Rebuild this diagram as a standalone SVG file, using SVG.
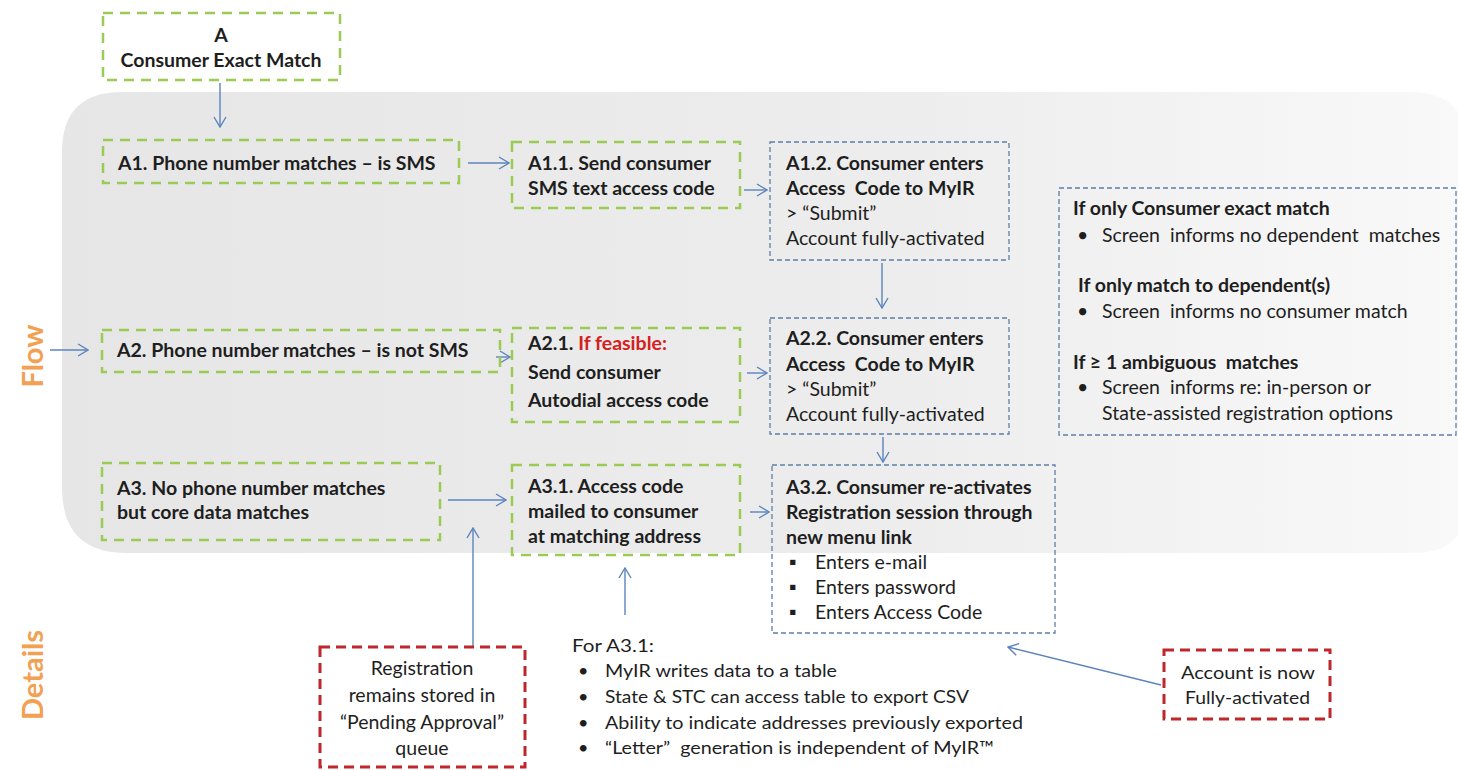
<svg xmlns="http://www.w3.org/2000/svg" width="1458" height="770" viewBox="0 0 1458 770">
<defs>
<linearGradient id="band" x1="0" y1="0" x2="1" y2="0">
<stop offset="0" stop-color="#e6e6e6"/>
<stop offset="0.6" stop-color="#ededed"/>
<stop offset="1" stop-color="#f9f9f9"/>
</linearGradient>
<marker id="ah" viewBox="0 0 12 14" refX="11" refY="7" markerWidth="12" markerHeight="14" markerUnits="userSpaceOnUse" orient="auto">
<path d="M1,1 L11,7 L1,13" fill="none" stroke="#5b84bd" stroke-width="1.4"/>
</marker>
<style>
.g{fill:none;stroke:#9bca55;stroke-width:2.5;stroke-dasharray:10 7}
.b{fill:none;stroke:#5d7fa8;stroke-width:1.3;stroke-dasharray:5 3}
.r{fill:none;stroke:#c0272d;stroke-width:3;stroke-dasharray:10 6}
.t{font-family:Lato,"Liberation Sans",sans-serif;font-size:19.5px;fill:#1e1e1e}
.tb{font-family:Lato,"Liberation Sans",sans-serif;font-size:19.5px;font-weight:bold;fill:#1e1e1e}
.tn{font-family:Lato,"Liberation Sans",sans-serif;font-size:18px;fill:#1e1e1e}
.red{fill:#d42020}
.lab{font-family:Lato,"Liberation Sans",sans-serif;font-size:29px;font-weight:bold;fill:#f2a052}
.c{fill:none;stroke:#5b84bd;stroke-width:1.4;marker-end:url(#ah)}
</style>
</defs>
<rect width="1458" height="770" fill="#ffffff"/>
<path d="M122,92 H1410 Q1468,92 1468,150 V498 Q1468,553 1413,553 H127 Q62,553 62,488 V152 Q62,92 122,92 Z" fill="url(#band)"/>
<text class="lab" text-anchor="middle" transform="translate(43,356) rotate(-90)">Flow</text>
<text class="lab" text-anchor="middle" transform="translate(43,675) rotate(-90)">Details</text>

<g id="connectors">
<path class="c" d="M220,83 V127"/>
<path class="c" d="M468,163 H509"/>
<path class="c" d="M744,190 H767"/>
<path class="c" d="M882,263 V308"/>
<path class="c" d="M50,350 H88"/>
<path class="c" d="M496,357 H510"/>
<path class="c" d="M747,373 H767"/>
<path class="c" d="M883,437 V462"/>
<path class="c" d="M448,500 H506"/>
<path class="c" d="M473,647 V528"/>
<path class="c" d="M625,615 V568"/>
<path class="c" d="M750,512 H769"/>
<path class="c" d="M1161,685 L1008,647"/>
</g>

<g id="nodeA">
<rect class="g" x="103" y="13" width="237" height="67"/>
<text class="tb" x="221" y="42" text-anchor="middle">A</text>
<text class="tb" x="221" y="67" text-anchor="middle">Consumer Exact Match</text>
</g>

<g id="nodeA1">
<rect class="g" x="103" y="140" width="356" height="43"/>
<text class="tb" x="118" y="170">A1. Phone number matches – is SMS</text>
</g>

<g id="nodeA1_1">
<rect class="g" x="512" y="142" width="228" height="66"/>
<text class="tb" x="528" y="170">A1.1. Send consumer</text>
<text class="tb" x="528" y="195">SMS text access code</text>
</g>

<g id="nodeA1_2">
<rect class="b" x="770" y="142" width="239" height="118"/>
<text class="tb" x="786" y="170">A1.2. Consumer enters</text>
<text class="tb" x="786" y="195" xml:space="preserve">Access  Code to MyIR</text>
<text class="t" x="786" y="220">&gt; “Submit”</text>
<text class="t" x="786" y="245">Account fully-activated</text>
</g>

<g id="nodeInfo">
<rect class="b" x="1059" y="188" width="397" height="247"/>
<text class="tb" x="1073" y="215">If only Consumer exact match</text>
<text class="t" x="1077" y="242">•</text>
<text class="t" x="1102" y="242" xml:space="preserve">Screen  informs no dependent  matches</text>
<text class="tb" x="1078" y="292">If only match to dependent(s)</text>
<text class="t" x="1077" y="318">•</text>
<text class="t" x="1102" y="318" xml:space="preserve">Screen  informs no consumer match</text>
<text class="tb" x="1073" y="369" xml:space="preserve">If ≥ 1 ambiguous  matches</text>
<text class="t" x="1077" y="394">•</text>
<text class="t" x="1102" y="394" xml:space="preserve">Screen  informs re: in-person or</text>
<text class="t" x="1102" y="420">State-assisted registration options</text>
</g>

<g id="nodeA2">
<rect class="g" x="102" y="330" width="398" height="42"/>
<text class="tb" x="117" y="357">A2. Phone number matches – is not SMS</text>
</g>

<g id="nodeA2_1">
<rect class="g" x="512" y="328" width="228" height="94"/>
<text class="tb" x="528" y="350">A2.1. <tspan class="red">If feasible:</tspan></text>
<text class="tb" x="528" y="379">Send consumer</text>
<text class="tb" x="528" y="407">Autodial access code</text>
</g>

<g id="nodeA2_2">
<rect class="b" x="770" y="318" width="239" height="116"/>
<text class="tb" x="786" y="345">A2.2. Consumer enters</text>
<text class="tb" x="786" y="371" xml:space="preserve">Access  Code to MyIR</text>
<text class="t" x="786" y="396">&gt; “Submit”</text>
<text class="t" x="786" y="421">Account fully-activated</text>
</g>

<g id="nodeA3">
<rect class="g" x="102" y="463" width="338" height="77"/>
<text class="tb" x="117" y="495">A3. No phone number matches</text>
<text class="tb" x="117" y="519">but core data matches</text>
</g>

<g id="nodeA3_1">
<rect class="g" x="512" y="465" width="228" height="90"/>
<text class="tb" x="528" y="493">A3.1. Access code</text>
<text class="tb" x="528" y="518">mailed to consumer</text>
<text class="tb" x="528" y="543">at matching address</text>
</g>

<g id="nodeA3_2">
<rect class="b" x="772" y="465" width="283" height="168"/>
<text class="tb" x="786" y="494">A3.2. Consumer re-activates</text>
<text class="tb" x="786" y="519">Registration session through</text>
<text class="tb" x="786" y="544">new menu link</text>
<text class="t" x="789" y="569">▪</text>
<text class="t" x="815" y="569">Enters e-mail</text>
<text class="t" x="789" y="594">▪</text>
<text class="t" x="815" y="594">Enters password</text>
<text class="t" x="789" y="619">▪</text>
<text class="t" x="815" y="619">Enters Access Code</text>
</g>

<g id="nodePending">
<rect class="r" x="320" y="647" width="205" height="120"/>
<text class="t" x="422" y="675" text-anchor="middle">Registration</text>
<text class="t" x="422" y="702" text-anchor="middle">remains stored in</text>
<text class="t" x="422" y="729" text-anchor="middle">“Pending Approval”</text>
<text class="t" x="422" y="755" text-anchor="middle">queue</text>
</g>

<g id="nodeDetailsA31">
<text class="tn" x="572" y="652" textLength="82" lengthAdjust="spacingAndGlyphs">For A3.1:</text>
<text class="tn" x="578" y="677">•</text>
<text class="tn" x="605" y="677" textLength="232" lengthAdjust="spacingAndGlyphs">MyIR writes data to a table</text>
<text class="tn" x="578" y="703">•</text>
<text class="tn" x="605" y="703" textLength="364" lengthAdjust="spacingAndGlyphs">State &amp; STC can access table to export CSV</text>
<text class="tn" x="578" y="729">•</text>
<text class="tn" x="605" y="729" textLength="418" lengthAdjust="spacingAndGlyphs">Ability to indicate addresses previously exported</text>
<text class="tn" x="578" y="754">•</text>
<text class="tn" x="605" y="754" textLength="389" lengthAdjust="spacingAndGlyphs" xml:space="preserve">“Letter”  generation is independent of MyIR™</text>
</g>

<g id="nodeAccount">
<rect class="r" x="1164" y="650" width="166" height="69"/>
<text class="tn" x="1181" y="679" textLength="134" lengthAdjust="spacingAndGlyphs">Account is now</text>
<text class="tn" x="1185" y="704" textLength="125" lengthAdjust="spacingAndGlyphs">Fully-activated</text>
</g>
</svg>
